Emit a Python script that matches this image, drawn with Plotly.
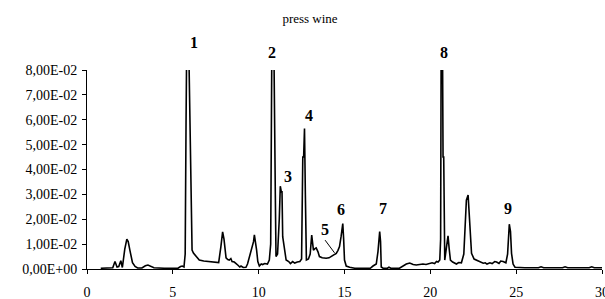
import plotly.graph_objects as go

# retention time (min) and detector response
time_min = [0.8, 1.2, 1.5, 1.63, 1.75, 1.85, 1.97, 2.06, 2.2, 2.32, 2.4, 2.5, 2.65, 2.8, 2.95,
            3.2, 3.4, 3.55, 3.75, 3.9, 4.5, 5.3, 5.45, 5.55, 5.65, 5.72, 5.77, 5.82, 5.88, 5.95,
            6.08, 6.12, 6.2, 6.35, 6.54, 6.8, 7.12, 7.5, 7.67, 7.8, 7.9, 7.98, 8.1, 8.2, 8.29,
            8.38, 8.45, 8.58, 8.7, 8.78, 8.9, 8.97, 9.1, 9.26, 9.35, 9.55, 9.7, 9.75, 9.82, 9.88,
            9.95, 10.04, 10.15, 10.23, 10.35, 10.51, 10.62, 10.7, 10.76, 10.82, 10.9, 10.92, 10.97,
            11.01, 11.1, 11.2, 11.26, 11.32, 11.36, 11.4, 11.5, 11.6, 11.75, 11.85, 11.98, 12.1,
            12.25, 12.4, 12.5, 12.57, 12.62, 12.67, 12.72, 12.78, 12.9, 13.0, 13.09, 13.14, 13.19,
            13.28, 13.35, 13.45, 13.54, 13.7, 13.93, 14.1, 14.22, 14.4, 14.52, 14.62, 14.71, 14.8,
            14.9, 14.95, 15.0, 15.1, 15.3, 15.6, 16.5, 16.66, 16.85, 16.95, 17.05, 17.1, 17.14,
            17.25, 17.5, 17.59, 17.7, 18.2, 18.4, 18.6, 18.8, 19.0, 19.18, 19.4, 19.57, 19.75,
            19.96, 20.1, 20.25, 20.36, 20.45, 20.55, 20.6, 20.66, 20.74, 20.78, 20.84, 20.92,
            21.03, 21.1, 21.17, 21.3, 21.52, 21.65, 21.81, 21.95, 22.1, 22.2, 22.3, 22.4, 22.55,
            22.69, 22.85, 23.08, 23.2, 23.3, 23.47, 23.6, 23.75, 23.86, 24.0, 24.1, 24.24, 24.4,
            24.5, 24.6, 24.67, 24.73, 24.82, 24.93, 25.5, 26.3, 26.45, 26.6, 27.7, 27.85, 28.0,
            29.25, 29.4, 29.55, 30.0]
response = [0.0003, 0.0003, 0.0005, 0.003, 0.0008, 0.001, 0.0033, 0.0006, 0.008, 0.012, 0.011,
            0.0075, 0.0025, 0.001, 0.0004, 0.0004, 0.0013, 0.0016, 0.001, 0.0005, 0.0003, 0.0003,
            0.001, 0.0012, 0.0008, 0.006, 0.059, 0.078, 0.15, 0.08, 0.02, 0.0076, 0.0064, 0.005,
            0.0036, 0.0032, 0.003, 0.0028, 0.0026, 0.009, 0.0149, 0.012, 0.0045, 0.0038, 0.0036,
            0.0042, 0.003, 0.0028, 0.0018, 0.0016, 0.0008, 0.0012, 0.0006, 0.0007, 0.002, 0.007,
            0.011, 0.0137, 0.011, 0.0076, 0.003, 0.0012, 0.002, 0.0018, 0.0022, 0.002, 0.0036,
            0.01, 0.08, 0.16, 0.08, 0.048, 0.03, 0.005, 0.006, 0.02, 0.0333, 0.031, 0.031, 0.013,
            0.008, 0.0036, 0.003, 0.0022, 0.003, 0.0024, 0.0028, 0.003, 0.004, 0.045, 0.045,
            0.0565, 0.03, 0.0036, 0.004, 0.006, 0.0136, 0.01, 0.0076, 0.0082, 0.0085, 0.007, 0.005,
            0.0045, 0.0043, 0.0045, 0.005, 0.0058, 0.0063, 0.0075, 0.009, 0.013, 0.0183, 0.012,
            0.0036, 0.0012, 0.0007, 0.0003, 0.0003, 0.0012, 0.002, 0.007, 0.015, 0.011, 0.0008,
            0.0003, 0.0003, 0.0007, 0.0003, 0.0003, 0.0012, 0.002, 0.0024, 0.0018, 0.0016, 0.002,
            0.002, 0.0018, 0.0023, 0.0025, 0.0022, 0.003, 0.0028, 0.0036, 0.012, 0.16, 0.045,
            0.045, 0.0036, 0.008, 0.0133, 0.008, 0.0036, 0.0028, 0.002, 0.0026, 0.0025, 0.006,
            0.0277, 0.0297, 0.0157, 0.0063, 0.004, 0.0036, 0.003, 0.0023, 0.0025, 0.002, 0.0025,
            0.0022, 0.003, 0.0028, 0.0022, 0.0032, 0.003, 0.0025, 0.006, 0.018, 0.015, 0.0063,
            0.002, 0.0007, 0.0005, 0.0005, 0.0009, 0.0005, 0.0005, 0.0009, 0.0005, 0.0005,
            0.0009, 0.0005, 0.0005]

# peak labels (position in data units)
peak_names = ["1", "2", "3", "4", "5", "6", "7", "8", "9"]
peak_label_x = [6.25, 10.8, 11.69, 12.96, 13.87, 14.81, 17.24, 20.78, 24.54]
peak_label_y = [0.0912, 0.0871, 0.0371, 0.0618, 0.0157, 0.0241, 0.0244, 0.0871, 0.0244]

y_tick_vals = [0, 0.01, 0.02, 0.03, 0.04, 0.05, 0.06, 0.07, 0.08]
y_tick_text = ["0,00E+00", "1,00E-02", "2,00E-02", "3,00E-02", "4,00E-02",
               "5,00E-02", "6,00E-02", "7,00E-02", "8,00E-02"]
x_tick_vals = [0, 5, 10, 15, 20, 25, 30]
Y_MAX = 0.08

FONT = "Liberation Serif"

fig = go.Figure()
fig.add_trace(go.Scatter(x=time_min, y=response, mode="lines",
                         line=dict(color="black", width=1.6), hoverinfo="skip"))

for name, px, py in zip(peak_names, peak_label_x, peak_label_y):
    # paper y so labels above the clipped range stay visible
    fig.add_annotation(x=px, y=py / Y_MAX, xref="x", yref="paper", text="<b>%s</b>" % name,
                       xanchor="center", yanchor="middle",
                       showarrow=False, font=dict(family=FONT, size=16, color="black"))

# leader line for peak 5
fig.add_shape(type="line", xref="x", yref="y", x0=13.87, y0=0.0116, x1=14.42, y1=0.0065,
              line=dict(color="black", width=1))

fig.update_layout(
    width=605, height=299,
    margin=dict(l=87, r=3, t=70, b=30),
    paper_bgcolor="white", plot_bgcolor="white",
    showlegend=False,
    title=dict(text="press wine", x=310 / 605, xref="container", xanchor="center",
               y=1 - 18 / 299, yref="container", yanchor="middle",
               font=dict(family=FONT, size=13, color="black")),
    font=dict(family=FONT, size=14, color="black"),
)
fig.update_xaxes(range=[0, 30], tickvals=x_tick_vals, ticks="outside", ticklen=4,
                 tickcolor="black", showline=True, linecolor="black", linewidth=1,
                 showgrid=False, zeroline=False, ticklabelstandoff=6, automargin=False,
                 ticklabeloverflow="allow",
                 tickfont=dict(family=FONT, size=14, color="black"))
fig.update_yaxes(range=[0, Y_MAX], tickvals=y_tick_vals, ticktext=y_tick_text,
                 ticks="outside", ticklen=4, tickcolor="black", showline=True,
                 linecolor="black", linewidth=1, showgrid=False, zeroline=False,
                 automargin=False, ticklabelstandoff=2,
                 tickfont=dict(family=FONT, size=14, color="black"))

fig.write_html("out.html", config={"displayModeBar": False},
               post_script="document.body.style.margin='0';")
